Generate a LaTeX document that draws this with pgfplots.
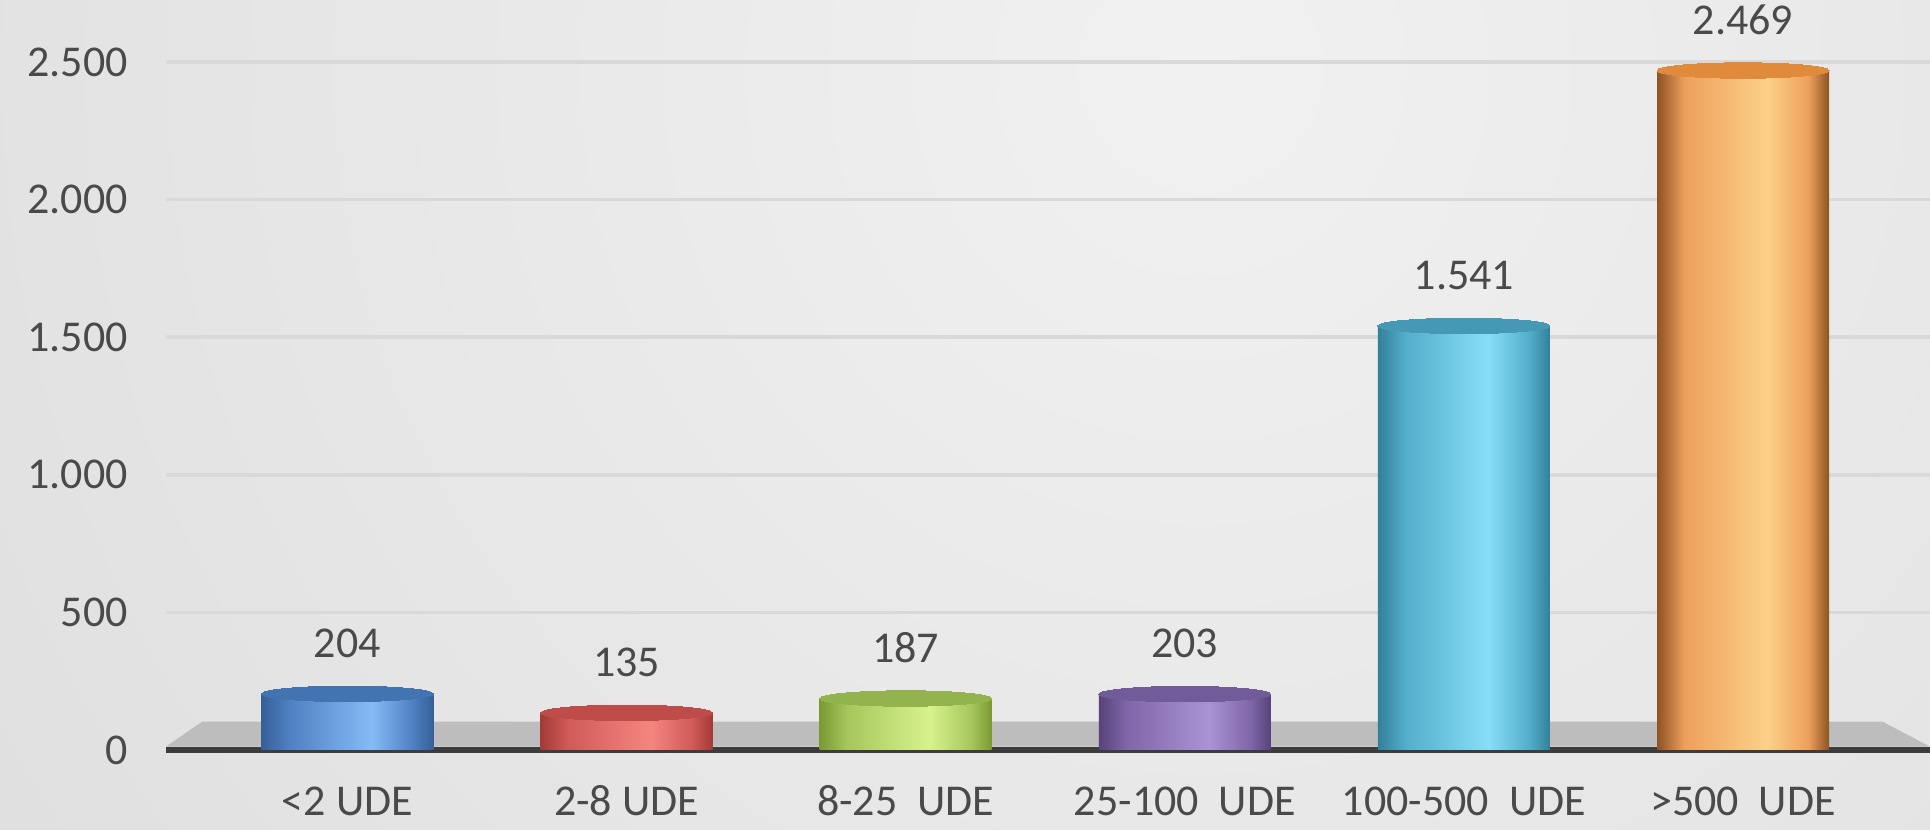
\documentclass[border=0pt]{standalone}
\usepackage{pgfplots}
\pgfplotsset{compat=1.18}
\usepackage{fontspec}
\setmainfont{Carlito}

\definecolor{bglight}{HTML}{F1F1F1}
\definecolor{bgdark}{HTML}{D3D3D3}
\definecolor{gridc}{HTML}{D9D9D9}
\definecolor{labc}{HTML}{4A4A4A}
\definecolor{axisc}{HTML}{3C3C3C}
\definecolor{floorc}{HTML}{BDBDBD}

\definecolor{bluedk}{HTML}{365F96}
\definecolor{bluemd}{HTML}{4F80C2}
\definecolor{bluelt}{HTML}{86BBF6}
\definecolor{bluetop}{HTML}{4473B2}
\definecolor{reddk}{HTML}{A33A38}
\definecolor{redmd}{HTML}{D05B58}
\definecolor{redlt}{HTML}{F5857F}
\definecolor{redtop}{HTML}{BE4C49}
\definecolor{grndk}{HTML}{7A9A32}
\definecolor{grnmd}{HTML}{A6C75C}
\definecolor{grnlt}{HTML}{D8F28E}
\definecolor{grntop}{HTML}{93B34E}
\definecolor{purdk}{HTML}{57437A}
\definecolor{purmd}{HTML}{7F66A8}
\definecolor{purlt}{HTML}{AA93D4}
\definecolor{purtop}{HTML}{725B99}
\definecolor{cyndk}{HTML}{347F99}
\definecolor{cynmd}{HTML}{52AECB}
\definecolor{cynlt}{HTML}{88DEF7}
\definecolor{cyntop}{HTML}{4699B5}
\definecolor{orgdk}{HTML}{8E5224}
\definecolor{orgmd}{HTML}{EDA05C}
\definecolor{orglt}{HTML}{FCD189}
\definecolor{orgtop}{HTML}{E08A3C}

\newcommand\cylshade[4]{\pgfdeclarehorizontalshading{#1}{100bp}{color(0bp)=(#2); color(25bp)=(#2); color(33bp)=(#3); color(57bp)=(#4); color(69bp)=(#3); color(75bp)=(#2); color(100bp)=(#2)}}
\cylshade{blueshade}{bluedk}{bluemd}{bluelt}
\cylshade{redshade}{reddk}{redmd}{redlt}
\cylshade{grnshade}{grndk}{grnmd}{grnlt}
\cylshade{purshade}{purdk}{purmd}{purlt}
\cylshade{cynshade}{cyndk}{cynmd}{cynlt}
\cylshade{orgshade}{orgdk}{orgmd}{orglt}

\begin{document}
\begin{tikzpicture}
\useasboundingbox (0,0) rectangle (482.5pt,207.5pt);
\begin{scope}
\clip (0,0) rectangle (482.5pt,207.5pt);
\fill[bgdark] (0,0) rectangle (482.5pt,207.5pt);
\shade[inner color=bglight, outer color=bgdark] (300pt,190pt) circle (620pt);
\end{scope}
\begin{axis}[
  at={(41.5pt,20pt)}, anchor=south west,
  scale only axis, width=441pt, height=178.875pt,
  xmin=-0.65, xmax=5.67, ymin=0, ymax=2600,
  axis x line*=bottom, axis y line*=left,
  x axis line style={line width=1.4pt, color=axisc},
  y axis line style={draw=none},
  xtick={0,1,2,3,4,5},
  xticklabels={{<2 UDE},{2-8 UDE},{8-25~ UDE},{25-100~ UDE},{100-500~ UDE},{>500~ UDE}},
  ytick={0,500,1000,1500,2000,2500},
  major tick length=0pt,
  ymajorgrids, grid style={line width=0.9pt, color=gridc},
  tick label style={font=\fontsize{11}{13}\selectfont, text=labc},
  yticklabel style={xshift=-6pt},
  xticklabel style={anchor=base, yshift=-16.5pt},
  /pgf/number format/assume math mode=true,
  /pgf/number format/1000 sep={.},
  every node near coord/.append style={font=\fontsize{11}{13}\selectfont, text=labc, yshift=5.5pt},
  clip=false,
]
\fill[floorc] (axis cs:-0.65,12) -- (axis cs:5.67,12) -- (axis cs:5.50,103) -- (axis cs:-0.52,103) -- cycle;

\addplot[ybar, bar width=43pt, draw=none, shading=blueshade, nodes near coords] coordinates {(0,204)};
\addplot[only marks, mark=*, mark size=21.5pt, mark options={draw=bluetop, line width=0pt, fill=bluetop, yscale=0.09}] coordinates {(0,204)};

\addplot[ybar, bar width=43pt, draw=none, shading=redshade, nodes near coords] coordinates {(1,135)};
\addplot[only marks, mark=*, mark size=21.5pt, mark options={draw=redtop, line width=0pt, fill=redtop, yscale=0.09}] coordinates {(1,135)};

\addplot[ybar, bar width=43pt, draw=none, shading=grnshade, nodes near coords] coordinates {(2,187)};
\addplot[only marks, mark=*, mark size=21.5pt, mark options={draw=grntop, line width=0pt, fill=grntop, yscale=0.09}] coordinates {(2,187)};

\addplot[ybar, bar width=43pt, draw=none, shading=purshade, nodes near coords] coordinates {(3,203)};
\addplot[only marks, mark=*, mark size=21.5pt, mark options={draw=purtop, line width=0pt, fill=purtop, yscale=0.09}] coordinates {(3,203)};

\addplot[ybar, bar width=43pt, draw=none, shading=cynshade, nodes near coords] coordinates {(4,1541)};
\addplot[only marks, mark=*, mark size=21.5pt, mark options={draw=cyntop, line width=0pt, fill=cyntop, yscale=0.09}] coordinates {(4,1541)};

\addplot[ybar, bar width=43pt, draw=none, shading=orgshade, nodes near coords] coordinates {(5,2469)};
\addplot[only marks, mark=*, mark size=21.5pt, mark options={draw=orgtop, line width=0pt, fill=orgtop, yscale=0.09}] coordinates {(5,2469)};
\end{axis}
\end{tikzpicture}
\end{document}
